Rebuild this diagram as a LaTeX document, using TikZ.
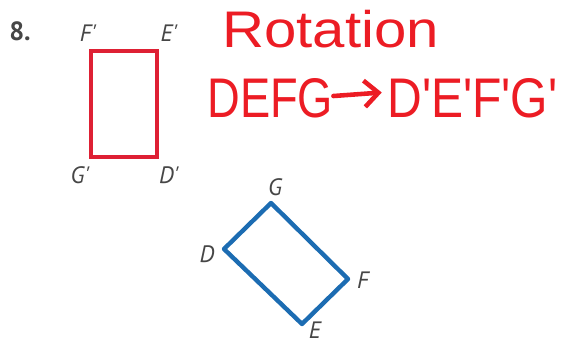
\documentclass[tikz,border=0pt]{standalone}
\usepackage{fontspec}
\usepackage{xcolor}
\usetikzlibrary{arrows.meta}
\setmainfont{PT Sans}
\newfontfamily\handfont{Liberation Sans}
\definecolor{imgred}{RGB}{222,32,52}
\definecolor{preblue}{RGB}{28,108,178}
\definecolor{inkred}{RGB}{236,28,36}
\definecolor{labelgray}{RGB}{70,70,70}

\begin{document}
\begin{tikzpicture}[x=0.02cm, y=-0.02cm,
    vlabel/.style={font=\fontsize{13.5}{16}\selectfont\itshape, text=labelgray, inner sep=0pt},
    hand/.style={font=\handfont\fontsize{31.8}{36}\selectfont, text=inkred, inner sep=0pt, anchor=base west}]
    \useasboundingbox (0,0) rectangle (563,345);

    % Exercise number
    \node[font=\fontsize{15}{18}\selectfont\bfseries, text=labelgray, inner sep=0pt] (num) at (20,31) {8.};

    % Image D'E'F'G'
    \coordinate (F1) at (91,51);
    \coordinate (E1) at (157,51);
    \coordinate (D1) at (157,157);
    \coordinate (G1) at (91,157);
    \draw[imgred, line width=1.8pt] (F1) -- (E1) -- (D1) -- (G1) -- cycle;
    \node[vlabel] (lF1) at (88,33) {F\textquotesingle};
    \node[vlabel] (lE1) at (169,33) {E\textquotesingle};
    \node[vlabel] (lG1) at (80,175) {G\textquotesingle};
    \node[vlabel] (lD1) at (169,175) {D\textquotesingle};

    % Preimage DEFG
    \coordinate (G) at (271,203);
    \coordinate (F) at (348,279);
    \coordinate (E) at (302,324);
    \coordinate (D) at (224,249);
    \draw[preblue, line width=2.5pt, line join=round] (D) -- (G) -- (F) -- (E) -- cycle;
    \node[vlabel] (lG) at (275,187) {G};
    \node[vlabel] (lD) at (207,254) {D};
    \node[vlabel] (lF) at (363,280) {F};
    \node[vlabel] (lE) at (315,330) {E};

    % Handwritten note
    \node[hand, font=\handfont\fontsize{29.3}{34}\selectfont] (rot) at (222,47) {\scalebox{1.13}[1]{Rotation}};
    \node[hand] (src) at (207,117) {\scalebox{0.81}[1]{DEFG}};
    \node[hand] (dst) at (387,117) {\scalebox{0.86}[1]{D\textquotesingle E\textquotesingle F\textquotesingle G\textquotesingle}};
    \draw[inkred, line width=2.6pt, line cap=round, -{Straight Barb[length=8pt, width=15pt]}]
        ([yshift=1pt]src.east) -- ([xshift=-3pt, yshift=3pt]dst.west);
\end{tikzpicture}
\end{document}
